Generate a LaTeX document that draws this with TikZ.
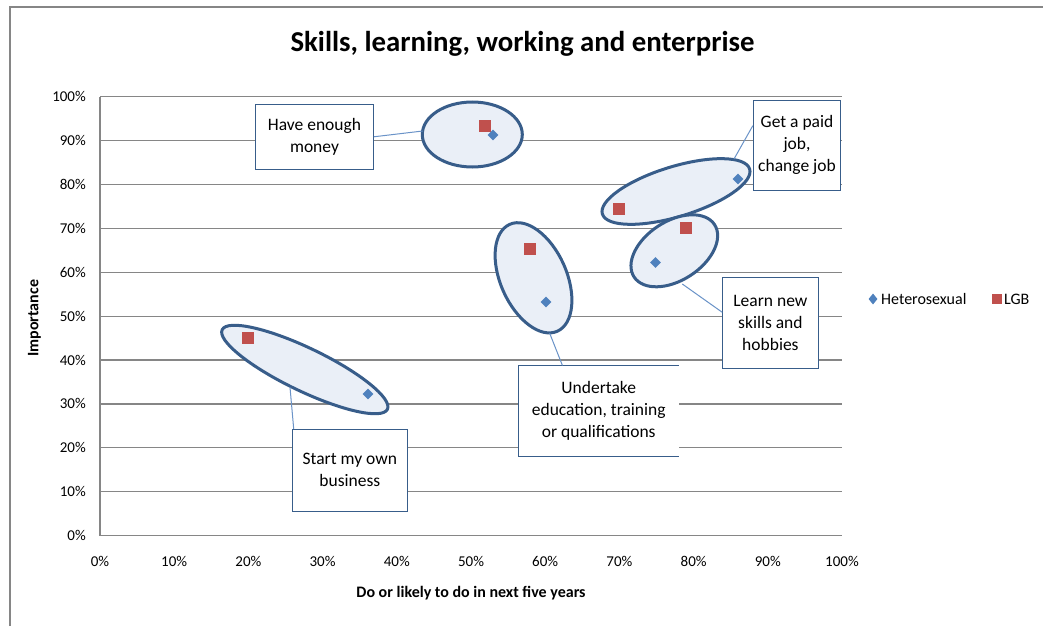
\documentclass[tikz,border=0pt]{standalone}
\usepackage{fontspec}
\setmainfont{Carlito}
\usetikzlibrary{shapes.geometric}
\definecolor{gridc}{HTML}{868686}
\definecolor{blobline}{HTML}{385D8A}
\definecolor{blobfill}{HTML}{EAEFF7}
\definecolor{hetc}{HTML}{4F81BD}
\definecolor{lgbc}{HTML}{C0504D}
\definecolor{callc}{HTML}{385D8A}
\definecolor{connc}{HTML}{6A93C8}
\begin{document}
\begin{tikzpicture}[x=1pt,y=-1pt,
  gridline/.style={draw=gridc,line width=1.2pt},
  frameline/.style={draw=gridc,line width=2pt},
  blob/.style={draw=blobline,line width=3pt,fill=blobfill},
  callout/.style={draw=callc,line width=1pt,fill=white,align=center,inner sep=0pt,font=\fontsize{17.5}{22}\selectfont},
  calloutopen/.style={fill=white,align=center,inner sep=0pt,font=\fontsize{17.5}{22}\selectfont},
  conn/.style={draw=connc,line width=1pt},
  het/.style={diamond,fill=hetc,draw=none,minimum width=11pt,minimum height=11pt,inner sep=0pt},
  lgb/.style={rectangle,fill=lgbc,draw=none,minimum size=12pt,inner sep=0pt},
  ticklab/.style={font=\fontsize{15}{18}\selectfont,inner sep=0pt},
  axtitle/.style={font=\fontsize{16}{19}\selectfont\bfseries,inner sep=0pt},
  legtext/.style={font=\fontsize{16}{19}\selectfont,inner sep=0pt,anchor=base west}]
\useasboundingbox[fill=white] (0,0) rectangle (1043,626);
% chart frame
\draw[frameline] (9.5,626) -- (9.5,7) -- (1043,7);
% title
\node[font=\fontsize{28.8}{34}\selectfont\bfseries,anchor=base,inner sep=0pt] (title) at (522.5,51.5) {Skills, learning, working and enterprise};
% gridlines and ticks
\foreach \i in {0,...,10}{
  \pgfmathsetmacro\yy{535.7-43.92*\i}
  \pgfmathsetmacro\xx{100+74.2*\i}
  \pgfmathtruncatemacro\p{10*\i}
  \draw[gridline] (100,\yy) -- (842,\yy);
  \node[ticklab,anchor=east] (yl\i) at (86,\yy) {\p\%};
  \node[ticklab] (xl\i) at (\xx,561.7) {\p\%};
}
\draw[gridline] (100,96.5) -- (100,535.7);
% axis titles
\node[axtitle,anchor=base] (xt) at (471,597.5) {Do or likely to do in next five years};
\node[axtitle,anchor=base,rotate=90] (yt) at (38.3,318.3) {Importance};
% ellipses
\draw[blob] (472.3,134.5) ellipse (50 and 32.5);
\draw[blob,rotate around={17:(676,191.5)}] (676,191.5) ellipse (77 and 25);
\draw[blob,rotate around={33:(674.3,250.8)}] (674.3,250.8) ellipse (48 and 29.5);
\draw[blob,rotate around={-66:(533.5,277.8)}] (533.5,277.8) ellipse (58.5 and 33);
\draw[blob,rotate around={-25.7:(304.8,369.5)}] (304.8,369.5) ellipse (91.7 and 21.5);
% markers
\node[lgb] (l1) at (485,126) {};
\node[het] (h1) at (493,135) {};
\node[lgb] (l2) at (619,209) {};
\node[het] (h2) at (738,179) {};
\node[lgb] (l3) at (685.5,228) {};
\node[het] (h3) at (655.5,262.5) {};
\node[lgb] (l4) at (530,249) {};
\node[het] (h4) at (546,302) {};
\node[lgb] (l5) at (248,338) {};
\node[het] (h5) at (368,394) {};
% ellipse connector ends
\coordinate (e1a) at (422.7,131);
\coordinate (e2a) at (734,159);
\coordinate (e3a) at (682.3,284);
\coordinate (e4a) at (549.7,333.3);
\coordinate (e5a) at (290,387.3);
% callouts
\node[callout,minimum width=117.6pt,minimum height=65pt] (b1) at (314.5,136.8) {Have enough\\money};
\node[callout,minimum width=87.4pt,minimum height=89.3pt] (b2) at (797,145.4) {Get a paid\\job,\\change job};
\node[callout,minimum width=95.3pt,minimum height=91pt] (b3) at (770.4,322.8) {Learn new\\skills and\\hobbies};
\node[calloutopen,minimum width=160pt,minimum height=90.7pt] (b4) at (598.7,411) {Undertake\\education, training\\or qualifications};
\draw[draw=callc,line width=1pt] (b4.north east) -- (b4.north west) -- (b4.south west) -- (b4.south east);
\node[callout,minimum width=115pt,minimum height=81.7pt] (b5) at (349.8,470.2) {Start my own\\business};
% connectors
\draw[conn] (b1.east) -- (e1a);
\draw[conn] ([yshift=19.7pt]b2.west) -- (e2a);
\draw[conn] ([yshift=10.5pt]b3.west) -- (e3a);
\draw[conn] ([xshift=-36.3pt]b4.north) -- (e4a);
\draw[conn] ([xshift=-56.1pt]b5.north) -- (e5a);
% legend
\node[het,minimum width=9pt,minimum height=11pt] (lgh) at (873,299) {};
\node[legtext] (lght) at (881,304.2) {Heterosexual};
\node[lgb,minimum size=10.5pt] (lgl) at (997,299) {};
\node[legtext] (lglt) at (1004,304.2) {LGB};
\end{tikzpicture}
\end{document}
